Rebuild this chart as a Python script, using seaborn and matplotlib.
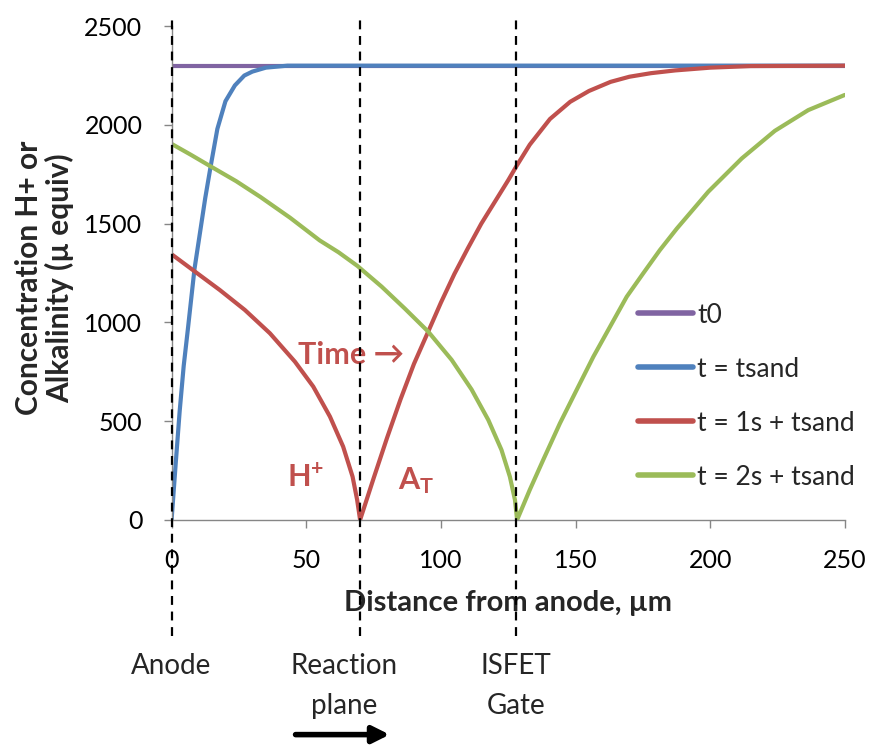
import numpy as np
import pandas as pd
import matplotlib
matplotlib.use("Agg")
import matplotlib.pyplot as plt
import matplotlib.transforms as mtransforms
import seaborn as sns

# values
labels = ["t0", "t = tsand", "t = 1s + tsand", "t = 2s + tsand"]
colors = ["#8064A2", "#4F81BD", "#C0504D", "#9BBB59"]

x_t0 = [0, 250]
y_t0 = [2300, 2300]

x_tsand = [0, 1.5, 3, 4.5, 6, 8.5, 10.5, 12.5, 14.5, 17, 20, 23.5, 27, 30, 35, 43, 250]
y_tsand = [0, 280, 550, 780, 960, 1270, 1450, 1630, 1790, 1980, 2120, 2200, 2250, 2270, 2290, 2300, 2300]

x_t1 = [0, 8.7, 17.9, 27.2, 36.5, 45.8, 52.6, 58.8, 63.7, 67.2, 68.9, 70,
        75, 80, 85, 90, 95.5, 100, 105, 110, 115, 120, 125, 128, 133, 140.5, 148, 155,
        163, 170, 178, 187, 200, 215, 250]
y_t1 = [1345, 1257, 1164, 1063, 945, 801, 675, 523, 371, 219, 101, 0,
        210, 415, 610, 790, 960, 1100, 1245, 1375, 1500, 1610, 1720, 1790, 1900, 2030, 2117, 2172,
        2218, 2244, 2262, 2276, 2290, 2298, 2300]

x_t2 = [0, 7, 14.5, 24, 33, 44, 55, 62, 69, 78, 86.6, 95.3, 104, 111.4, 117.6, 122.5, 125.6, 127.5, 128.3,
        133, 138, 144.2, 150.4, 156.6, 162.8, 169, 175.1, 181.3, 187.6, 199.3, 211.7, 224, 236.4, 250]
y_t2 = [1904, 1850, 1790, 1715, 1635, 1530, 1415, 1355, 1286, 1181, 1070, 953, 810, 660, 506, 354, 219, 101, 0,
        152, 304, 489, 658, 826, 978, 1130, 1248, 1366, 1475, 1662, 1830, 1970, 2075, 2152]

x_ticks = [0, 50, 100, 150, 200, 250]
y_ticks = [0, 500, 1000, 1500, 2000, 2500]

markers_x = [0, 70, 128]
marker_names = ["Anode", "Reaction\nplane", "ISFET\nGate"]
marker_text_x = [0, 64, 128]

frames = []
for lab, xs, ys in zip(labels, [x_t0, x_tsand, x_t1, x_t2], [y_t0, y_tsand, y_t1, y_t2]):
    frames.append(pd.DataFrame({"x": xs, "y": ys, "series": lab}))
df = pd.concat(frames, ignore_index=True)

sns.set_theme(style="white")
plt.rcParams["font.family"] = ["Lato", "DejaVu Sans"]
plt.rcParams["mathtext.fontset"] = "custom"
plt.rcParams["mathtext.rm"] = "Lato"
plt.rcParams["mathtext.bf"] = "Lato:bold"

fig = plt.figure(figsize=(8.71, 7.48), dpi=100)
ax = fig.add_axes([0.197, 0.305, 0.773, 0.66])

sns.lineplot(data=df, x="x", y="y", hue="series", palette=colors, hue_order=labels,
             linewidth=3, ax=ax, estimator=None, sort=True)

ax.set_xlim(0, 250)
ax.set_ylim(0, 2500)
ax.set_xticks(x_ticks)
ax.set_yticks(y_ticks)
ax.tick_params(labelsize=18, colors="black", length=6, width=1, direction="out",
               left=True, bottom=True, color="#868686")
ax.tick_params(axis="y", pad=15)
ax.tick_params(axis="x", pad=15)
for s in ["top", "right"]:
    ax.spines[s].set_visible(False)
for s in ["left", "bottom"]:
    ax.spines[s].set_color("#868686")
    ax.spines[s].set_linewidth(1)

ax.set_xlabel("Distance from anode, µm", fontsize=21, fontweight="bold", labelpad=13)
ax.set_ylabel("Concentration H+ or\nAlkalinity (µ equiv)", fontsize=21.5, fontweight="bold",
              linespacing=1.1)
ax.yaxis.set_label_coords(-0.144, 0.49)

# dashed marker lines reaching below the axis
for xv in markers_x:
    ax.axvline(xv, ymin=-0.235, ymax=1.012, color="black", ls=(0, (4, 3)), lw=1.6, clip_on=False, zorder=5)

trans = mtransforms.blended_transform_factory(ax.transData, ax.transAxes)
for xv, name in zip(marker_text_x, marker_names):
    ax.text(xv, -0.27, name, transform=trans, ha="center", va="top", fontsize=20, linespacing=1.65)
ax.annotate("", xy=(82, -0.435), xytext=(45, -0.435), xycoords=trans, textcoords=trans,
            arrowprops=dict(arrowstyle="-|>", color="black", lw=4, mutation_scale=25), annotation_clip=False)

red = colors[2]
ax.text(47, 835, "Time →", color=red, fontsize=22, fontweight="bold", va="center")
ax.text(42.8, 213, r"$\mathbf{H^{+}}$", color=red, fontsize=22, va="center")
ax.text(84, 200, r"$\mathbf{A_{T}}$", color=red, fontsize=22, va="center")

leg = ax.legend(loc="upper left", bbox_to_anchor=(0.6926, 0.44), frameon=False, fontsize=19,
                handlelength=2.1, handletextpad=0.15, labelspacing=1.1, borderaxespad=0, borderpad=0)
for line in leg.get_lines():
    line.set_linewidth(4)

fig.savefig("out.png", dpi=100)
